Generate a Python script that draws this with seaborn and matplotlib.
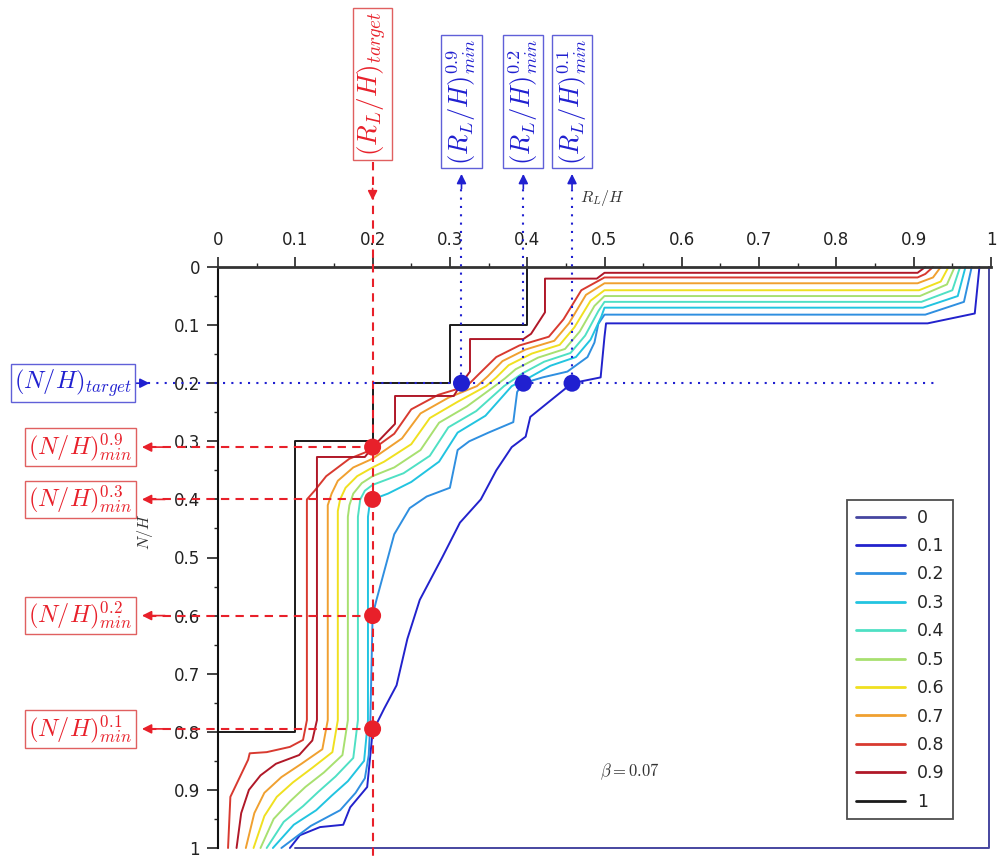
import numpy as np
import pandas as pd
import matplotlib
matplotlib.use("Agg")
import matplotlib.pyplot as plt
import seaborn as sns
from matplotlib.lines import Line2D
from matplotlib.ticker import MultipleLocator

# ---------------- data ----------------
alpha_labels = ["0", "0.1", "0.2", "0.3", "0.4", "0.5", "0.6", "0.7", "0.8", "0.9", "1"]
tick_labels = ["0", "0.1", "0.2", "0.3", "0.4", "0.5", "0.6", "0.7", "0.8", "0.9", "1"]
tick_values = [0.0, 0.1, 0.2, 0.3, 0.4, 0.5, 0.6, 0.7, 0.8, 0.9, 1.0]

x_a0 = [0.100, 0.998, 0.998]
y_a0 = [1.000, 1.000, 0.000]

x_a01 = [0.985, 0.979, 0.918, 0.502, 0.500, 0.495, 0.458, 0.430, 0.404, 0.398, 0.380, 0.360, 0.340,
         0.313, 0.290, 0.261, 0.245, 0.231, 0.215, 0.200, 0.193, 0.171, 0.162, 0.132, 0.106, 0.093]
y_a01 = [0.000, 0.080, 0.097, 0.097, 0.120, 0.190, 0.200, 0.230, 0.258, 0.292, 0.310, 0.350, 0.400,
         0.440, 0.500, 0.573, 0.640, 0.720, 0.760, 0.800, 0.895, 0.930, 0.960, 0.964, 0.978, 1.000]

x_a02 = [0.975, 0.965, 0.915, 0.500, 0.492, 0.487, 0.478, 0.452, 0.420, 0.395, 0.387, 0.382, 0.350,
         0.325, 0.310, 0.300, 0.270, 0.248, 0.228, 0.205, 0.200, 0.197, 0.195, 0.190, 0.178, 0.158,
         0.120, 0.082]
y_a02 = [0.000, 0.060, 0.082, 0.082, 0.098, 0.130, 0.155, 0.180, 0.190, 0.200, 0.215, 0.267, 0.285,
         0.300, 0.315, 0.380, 0.395, 0.415, 0.460, 0.573, 0.600, 0.785, 0.840, 0.880, 0.905, 0.935,
         0.962, 1.000]

x_a03 = [0.967, 0.957, 0.912, 0.500, 0.496, 0.482, 0.463, 0.430, 0.403, 0.392, 0.380, 0.346, 0.310,
         0.286, 0.250, 0.220, 0.200, 0.196, 0.194, 0.194, 0.189, 0.168, 0.147, 0.127, 0.098, 0.071]
y_a03 = [0.000, 0.050, 0.070, 0.070, 0.085, 0.125, 0.155, 0.170, 0.190, 0.197, 0.205, 0.256, 0.285,
         0.335, 0.370, 0.390, 0.400, 0.410, 0.430, 0.780, 0.850, 0.885, 0.910, 0.935, 0.960, 1.000]

x_a04 = [0.960, 0.950, 0.910, 0.500, 0.492, 0.475, 0.456, 0.422, 0.394, 0.382, 0.370, 0.334, 0.298,
         0.274, 0.240, 0.200, 0.190, 0.184, 0.181, 0.181, 0.175, 0.152, 0.130, 0.110, 0.085, 0.063]
y_a04 = [0.000, 0.040, 0.060, 0.060, 0.076, 0.118, 0.148, 0.163, 0.183, 0.194, 0.205, 0.248, 0.276,
         0.325, 0.355, 0.375, 0.385, 0.400, 0.430, 0.780, 0.845, 0.877, 0.903, 0.928, 0.955, 1.000]

x_a05 = [0.953, 0.943, 0.908, 0.500, 0.487, 0.468, 0.449, 0.414, 0.385, 0.371, 0.358, 0.322, 0.286,
         0.262, 0.228, 0.200, 0.186, 0.175, 0.170, 0.168, 0.168, 0.161, 0.137, 0.113, 0.093, 0.072, 0.055]
y_a05 = [0.000, 0.030, 0.050, 0.050, 0.067, 0.111, 0.141, 0.156, 0.176, 0.192, 0.205, 0.240, 0.268,
         0.315, 0.345, 0.360, 0.372, 0.390, 0.410, 0.430, 0.780, 0.840, 0.870, 0.895, 0.920, 0.950, 1.000]

x_a06 = [0.945, 0.935, 0.907, 0.500, 0.482, 0.461, 0.442, 0.406, 0.376, 0.360, 0.347, 0.310, 0.274,
         0.250, 0.215, 0.200, 0.180, 0.165, 0.158, 0.155, 0.155, 0.148, 0.122, 0.097, 0.076, 0.060, 0.046]
y_a06 = [0.000, 0.025, 0.040, 0.040, 0.058, 0.104, 0.134, 0.149, 0.169, 0.190, 0.205, 0.232, 0.260,
         0.305, 0.335, 0.345, 0.360, 0.380, 0.400, 0.420, 0.780, 0.835, 0.862, 0.887, 0.912, 0.945, 1.000]

x_a07 = [0.935, 0.925, 0.905, 0.500, 0.476, 0.454, 0.435, 0.398, 0.368, 0.349, 0.335, 0.298, 0.262,
         0.238, 0.200, 0.175, 0.155, 0.147, 0.142, 0.142, 0.135, 0.108, 0.082, 0.060, 0.047, 0.036]
y_a07 = [0.000, 0.018, 0.028, 0.028, 0.048, 0.097, 0.127, 0.142, 0.162, 0.188, 0.205, 0.225, 0.252,
         0.295, 0.330, 0.345, 0.368, 0.390, 0.410, 0.780, 0.830, 0.855, 0.878, 0.905, 0.940, 1.000]

x_a08 = [0.925, 0.915, 0.905, 0.500, 0.470, 0.447, 0.428, 0.390, 0.360, 0.337, 0.322, 0.285, 0.250,
         0.228, 0.200, 0.170, 0.140, 0.125, 0.115, 0.115, 0.110, 0.093, 0.063, 0.041, 0.039, 0.016, 0.013]
y_a08 = [0.000, 0.012, 0.018, 0.018, 0.040, 0.090, 0.120, 0.135, 0.155, 0.185, 0.205, 0.220, 0.245,
         0.287, 0.314, 0.330, 0.360, 0.385, 0.400, 0.780, 0.814, 0.826, 0.835, 0.837, 0.848, 0.912, 1.000]

x_a09 = [0.915, 0.905, 0.500, 0.490, 0.423, 0.423, 0.405, 0.395, 0.326, 0.326, 0.315, 0.305, 0.229,
         0.229, 0.200, 0.190, 0.128, 0.128, 0.122, 0.105, 0.075, 0.055, 0.040, 0.030, 0.024]
y_a09 = [0.000, 0.010, 0.010, 0.020, 0.020, 0.078, 0.115, 0.124, 0.124, 0.180, 0.200, 0.222, 0.222,
         0.270, 0.310, 0.327, 0.327, 0.780, 0.815, 0.840, 0.855, 0.875, 0.900, 0.940, 1.000]

x_a1 = [0.40, 0.40, 0.30, 0.30, 0.20, 0.20, 0.10, 0.10, 0.00]
y_a1 = [0.00, 0.10, 0.10, 0.20, 0.20, 0.30, 0.30, 0.80, 0.80]

curve_colors = ["#4646a0", "#2222cc", "#2f8fe0", "#22c4e0", "#4fe0c4", "#a8e070",
                "#f0e020", "#f0a030", "#d83a30", "#b01828", "#1a1a1a"]

# target / minimum points
target_RL = 0.2
target_NH = 0.2
rl_min_x = [0.315, 0.395, 0.458]
rl_min_lab = ["0.9", "0.2", "0.1"]
nh_min_y = [0.31, 0.40, 0.60, 0.795]
nh_min_lab = ["0.9", "0.3", "0.2", "0.1"]

# ---------------- plot ----------------
sns.set_style("ticks")
plt.rcParams["font.family"] = ["DejaVu Sans"]
plt.rcParams["mathtext.fontset"] = "cm"

fig = plt.figure(figsize=(9.98, 8.59), dpi=100)
ax = fig.add_axes([218 / 998, 1 - 848 / 859, (991 - 218) / 998, (848 - 267) / 859])

xs_all = [x_a0, x_a01, x_a02, x_a03, x_a04, x_a05, x_a06, x_a07, x_a08, x_a09, x_a1]
ys_all = [y_a0, y_a01, y_a02, y_a03, y_a04, y_a05, y_a06, y_a07, y_a08, y_a09, y_a1]
frames = []
for lab, xs, ys in zip(alpha_labels, xs_all, ys_all):
    frames.append(pd.DataFrame({"x": xs, "y": ys, "alpha": lab}))
df = pd.concat(frames, ignore_index=True)
palette = dict(zip(alpha_labels, curve_colors))

sns.lineplot(data=df, x="x", y="y", hue="alpha", hue_order=alpha_labels, palette=palette,
             sort=False, estimator=None, legend=False, lw=1.4, ax=ax, clip_on=False)

RED = "#e8202a"
BLUE = "#2020d0"

# red dashed vertical target line
ax.plot([target_RL, target_RL], [-0.18, 1.02], ls=(0, (4, 3)), color=RED, lw=1.5, clip_on=False, zorder=5)
ax.annotate("", xy=(target_RL, -0.11), xytext=(target_RL, -0.14),
            arrowprops=dict(arrowstyle="-|>", color=RED, lw=1.2, mutation_scale=14),
            annotation_clip=False)
# blue dotted horizontal target line
ax.plot([-0.09, 0.928], [target_NH, target_NH], ls=(0, (1, 3)), color=BLUE, lw=1.5, clip_on=False, zorder=5)
ax.annotate("", xy=(-0.085, target_NH), xytext=(-0.12, target_NH),
            arrowprops=dict(arrowstyle="-|>", color=BLUE, lw=1.2, mutation_scale=14),
            annotation_clip=False)

# blue vertical dotted lines up to labels
for xv in rl_min_x:
    ax.plot([xv, xv], [target_NH, -0.15], ls=(0, (1, 3)), color=BLUE, lw=1.5, clip_on=False, zorder=5)
    ax.annotate("", xy=(xv, -0.165), xytext=(xv, -0.13),
                arrowprops=dict(arrowstyle="-|>", color=BLUE, lw=1.2, mutation_scale=14),
                annotation_clip=False)
# red horizontal dashed lines to labels
for yv in nh_min_y:
    ax.plot([-0.09, target_RL], [yv, yv], ls=(0, (4, 3)), color=RED, lw=1.5, clip_on=False, zorder=5)
    ax.annotate("", xy=(-0.102, yv), xytext=(-0.065, yv),
                arrowprops=dict(arrowstyle="-|>", color=RED, lw=1.2, mutation_scale=14),
                annotation_clip=False)

sns.scatterplot(x=[target_RL] * len(nh_min_y), y=nh_min_y, color=RED, s=150, edgecolor="none",
                ax=ax, zorder=8, clip_on=False)
sns.scatterplot(x=rl_min_x, y=[target_NH] * len(rl_min_x), color=BLUE, s=150, edgecolor="none",
                ax=ax, zorder=8, clip_on=False)

# label boxes
rbox = dict(boxstyle="square,pad=0.12", fc="white", ec="#e06060", lw=1.0)
bbox = dict(boxstyle="square,pad=0.12", fc="white", ec="#6060d8", lw=1.0)
ax.text(target_RL, -0.315, r"$(R_L/H)_{target}$", rotation=90, color=RED, fontsize=19.5,
        ha="center", va="center", bbox=rbox, clip_on=False)
for xv, lab in zip(rl_min_x, rl_min_lab):
    ax.text(xv, -0.285, r"$(R_L/H)^{%s}_{min}$" % lab, rotation=90, color=BLUE, fontsize=19,
            ha="center", va="center", bbox=bbox, clip_on=False)
ax.text(-0.188, target_NH, r"$(N/H)_{target}$", color=BLUE, fontsize=17.5,
        ha="center", va="center", bbox=bbox, clip_on=False)
for yv, lab in zip(nh_min_y, nh_min_lab):
    ax.text(-0.178, yv, r"$(N/H)^{%s}_{min}$" % lab, color=RED, fontsize=17.5,
            ha="center", va="center", bbox=rbox, clip_on=False)

# axes styling
ax.set_xlim(0, 1)
ax.set_ylim(1, 0)
ax.xaxis.tick_top()
ax.set_xticks(tick_values)
ax.set_xticklabels(tick_labels)
ax.set_yticks(tick_values)
ax.set_yticklabels(tick_labels)
ax.xaxis.set_minor_locator(MultipleLocator(0.05))
ax.yaxis.set_minor_locator(MultipleLocator(0.05))
ax.tick_params(axis="x", which="major", direction="out", length=7, width=1.2, pad=6,
               labelsize=12, top=True, bottom=False, labeltop=True, labelbottom=False, colors="#222")
ax.tick_params(axis="x", which="minor", direction="out", length=3, width=1.0, top=True, bottom=False)
ax.tick_params(axis="y", which="major", direction="out", length=8, width=1.2, pad=5,
               labelsize=12, left=True, right=False, colors="#222")
ax.tick_params(axis="y", which="minor", direction="out", length=3, width=1.0, left=True, right=False)
for s in ["right", "bottom"]:
    ax.spines[s].set_visible(False)
ax.spines["top"].set_linewidth(2.0)
ax.spines["top"].set_color("#333333")
ax.spines["left"].set_linewidth(1.5)
ax.spines["left"].set_color("#111111")
ax.set_xlabel("")
ax.set_ylabel("")

ax.text(0.497, -0.119, r"$R_L/H$", fontsize=11.5, ha="center", va="center", color="#333", clip_on=False)
ax.text(-0.094, 0.455, r"$N/H$", fontsize=11.5, rotation=90, ha="center", va="center", color="#333",
        clip_on=False)
ax.text(0.533, 0.869, r"$\beta = 0.07$", fontsize=12, ha="center", va="center", color="#333")

handles = [Line2D([0], [0], color=c, lw=2) for c in curve_colors]
leg = ax.legend(handles, alpha_labels, loc="upper left", bbox_to_anchor=(0.803, 0.614),
                frameon=True, fancybox=False, edgecolor="#222222", fontsize=12.5,
                labelspacing=0.6, handlelength=2.8, borderpad=0.5, handletextpad=0.7)
leg.get_frame().set_linewidth(1.3)

fig.savefig("out.png", dpi=100)
